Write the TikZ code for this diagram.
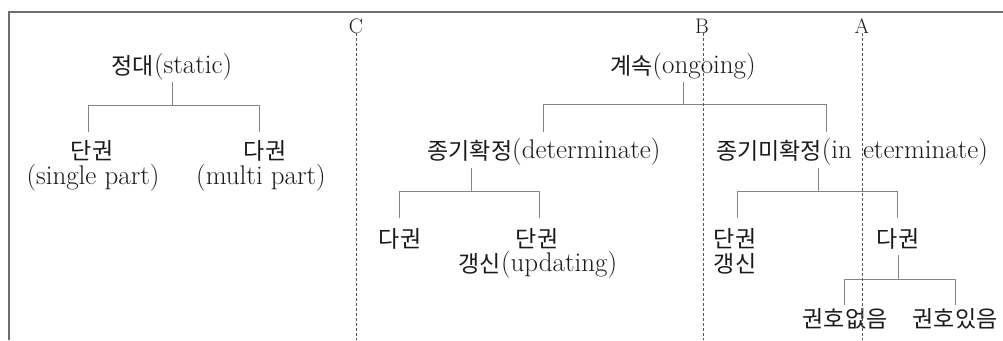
\documentclass[tikz,border=0pt]{standalone}
\usepackage{fontspec}
\newfontfamily\krfont{Noto Sans CJK KR}
\newcommand\kr[1]{\raisebox{-1.5pt}{\krfont\fontsize{23}{26}\selectfont #1}}
\definecolor{txt}{HTML}{1A1A1A}
\definecolor{linegray}{HTML}{858585}
\definecolor{framegray}{HTML}{6E6E6E}
\definecolor{dashgray}{HTML}{555555}
\tikzset{
  lbl/.style={inner sep=0pt, anchor=base, text height=19pt, text depth=5pt,
    font=\fontsize{27}{30}\selectfont, text=txt},
  sublbl/.style={lbl, text height=15pt},
  letter/.style={inner sep=0pt, anchor=base, text depth=0pt,
    font=\fontsize{21}{24}\selectfont, text=txt},
  tree/.style={draw=linegray, line width=1pt},
  guide/.style={draw=dashgray, line width=0.8pt, dash pattern=on 3pt off 2pt},
  frame/.style={draw=framegray, line width=1.3pt}
}
\begin{document}
\begin{tikzpicture}[x=1pt,y=-1pt]
\useasboundingbox (0,0) rectangle (1003,340);
\fill[white] (0,0) rectangle (1003,340);
% frame
\draw[frame] (9,340) -- (9,12) -- (1003,12);

% static tree
\node[lbl] (static) at (172,73) {\kr{정대}(static)};
\node[lbl] (sp1) at (92,158) {\kr{단권}};
\node[sublbl] (sp1b) at (93,184) {(single part)};
\node[lbl] (mp1) at (265,158) {\kr{다권}};
\node[sublbl] (mp1b) at (261,184) {(multi part)};

% ongoing tree
\node[lbl] (ongoing) at (683,73) {\kr{계속}(ongoing)};
\node[lbl] (det) at (544,158) {\kr{종기확정}(determinate)};
\node[lbl] (indet) at (852,158) {\kr{종기미확정}(in\hspace{11pt}eterminate)};
\node[lbl] (d2) at (400,246) {\kr{다권}};
\node[lbl] (s2) at (537,246) {\kr{단권}};
\node[sublbl] (s2b) at (538,271) {\kr{갱신}(updating)};
\node[lbl] (s3) at (735,246) {\kr{단권}};
\node[sublbl] (s3b) at (735,271) {\kr{갱신}};
\node[lbl] (m3) at (898,246) {\kr{다권}};
\node[lbl] (n1) at (845,326) {\kr{권호없음}};
\node[lbl] (n2) at (955,326) {\kr{권호있음}};

% connectors
\draw[tree] ([yshift=-4pt]static.south) -- ++(0,23) -| ([xshift=-4pt,yshift=7pt]sp1.north);
\draw[tree] ([yshift=-4pt]static.south) -- ++(0,23) -| ([xshift=-6pt,yshift=7pt]mp1.north);
\draw[tree] ([yshift=-4pt]ongoing.south) -- ++(0,22) -| ([xshift=-1pt,yshift=7pt]det.north);
\draw[tree] ([yshift=-4pt]ongoing.south) -- ++(0,22) -| ([xshift=-26pt,yshift=7pt]indet.north);
\draw[tree] ([xshift=-73pt,yshift=-5pt]det.south) -- ++(0,23) -| ([xshift=-1pt,yshift=9pt]d2.north);
\draw[tree] ([xshift=-73pt,yshift=-5pt]det.south) -- ++(0,23) -| ([xshift=2pt,yshift=9pt]s2.north);
\draw[tree] ([xshift=-34pt,yshift=-5pt]indet.south) -- ++(0,23) -| ([xshift=2pt,yshift=9pt]s3.north);
\draw[tree] ([xshift=-34pt,yshift=-5pt]indet.south) -- ++(0,23) -| ([xshift=-1pt,yshift=9pt]m3.north);
\draw[tree] ([yshift=-4pt]m3.south) -- ++(0,24) -| ([xshift=-1pt,yshift=2pt]n1.north);
\draw[tree] ([yshift=-4pt]m3.south) -- ++(0,24) -| ([yshift=2pt]n2.north);

% guide lines
\node[letter] (C) at (356,33) {C};
\node[letter] (B) at (702,33) {B};
\node[letter] (A) at (862,33) {A};
\coordinate (Cb) at (356,340);
\coordinate (Bb) at (703,340);
\coordinate (Ab) at (862,340);
\draw[guide] (C.south) -- (Cb);
\draw[guide] ([xshift=1pt]B.south) -- (Bb);
\draw[guide] (A.south) -- (Ab);
\end{tikzpicture}
\end{document}
